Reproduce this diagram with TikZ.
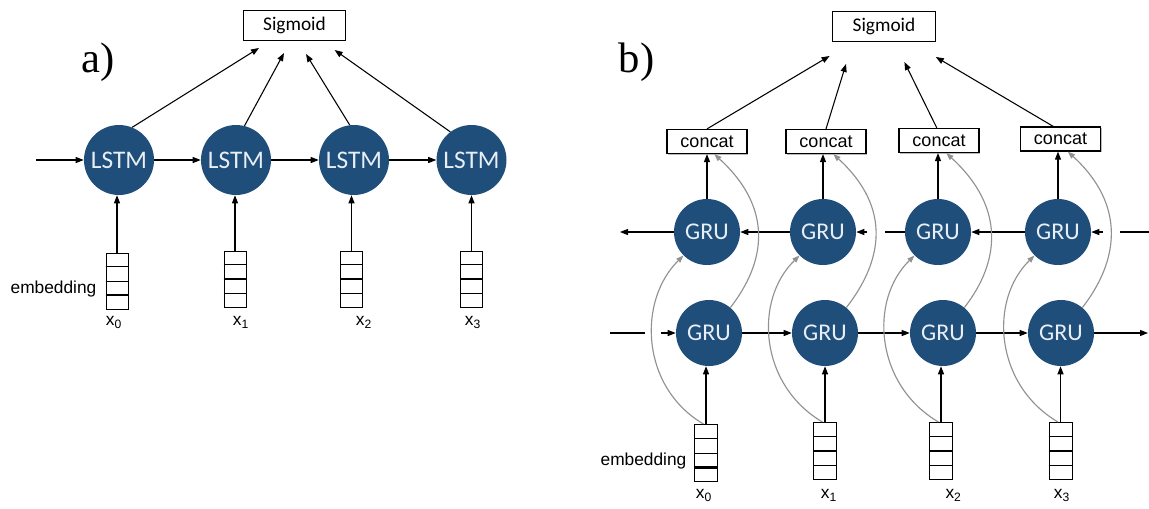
\documentclass[tikz,border=0pt]{standalone}
\usepackage{fontspec}
\setmainfont{Liberation Serif}
\newfontfamily\arialf{Liberation Sans}
\newfontfamily\calibrif{Carlito}
\usetikzlibrary{arrows.meta,calc,shadows}
\definecolor{nodeblue}{RGB}{31,78,122}
\definecolor{nodetext}{RGB}{232,238,245}
\definecolor{curvegray}{RGB}{145,145,145}
\newcommand\embcells[2]{%
  \foreach \i in {1,2,3}{\draw[line width=0.6pt] ($(#1.north west)!\i/4!(#1.south west)$) -- ($(#1.north east)!\i/4!(#1.south east)$);}
  \draw[line width=1.6pt] ($(#1.north west)!#2/4!(#1.south west)$) -- ($(#1.north east)!#2/4!(#1.south east)$);
}
\begin{document}
\begin{tikzpicture}[x=0.75pt,y=-0.75pt,
  ar/.style={-{Triangle[length=6pt,width=4.5pt]}, line width=0.8pt},
  gar/.style={-{Triangle[length=5.5pt,width=4pt]}, line width=0.85pt, curvegray},
  cellnode/.style={circle, fill=nodeblue, inner sep=0pt, text=nodetext},
  lstmnode/.style={cellnode, minimum size=52.5pt, font=\calibrif\fontsize{19}{19}\selectfont},
  grunode/.style={cellnode, minimum size=49.5pt, font=\calibrif\fontsize{18}{18}\selectfont},
  sigbox/.style={draw, line width=0.75pt, minimum width=77pt, minimum height=22pt, inner sep=0pt, font=\calibrif\fontsize{14.5}{14.5}\selectfont},
  catbox/.style={draw, fill=white, line width=0.9pt, minimum width=60pt, minimum height=18pt, inner sep=0pt, font=\arialf\fontsize{13.5}{13.5}\selectfont, drop shadow={shadow xshift=0.9pt, shadow yshift=-0.9pt, fill=black!45, opacity=0.6}},
  embboxa/.style={draw, line width=0.75pt, minimum width=16.5pt, minimum height=42pt, inner sep=0pt},
  embboxb/.style={draw, line width=0.75pt, minimum width=17.25pt, minimum height=42.75pt, inner sep=0pt},
  lbl/.style={font=\arialf\fontsize{13}{13}\selectfont, inner sep=0pt},
  panel/.style={font=\fontsize{32}{32}\selectfont, inner sep=0pt}
]
\useasboundingbox[fill=white] (0,0) rectangle (1149,508);

% ---------------- part a ----------------
\node[sigbox] (sa) at (294.5,25.5) {Sigmoid};
\node[panel] (pa) at (98,62) {a)};
\node[lstmnode] (la1) at (119,160) {LSTM};
\node[lstmnode] (la2) at (236,160) {LSTM};
\node[lstmnode] (la3) at (354,160) {LSTM};
\node[lstmnode] (la4) at (471.5,160) {LSTM};
\node[embboxa] (ea1) at (117,281) {};
\node[embboxa] (ea2) at (235,279) {};
\node[embboxa] (ea3) at (351.5,279) {};
\node[embboxa] (ea4) at (471.5,279) {};
\embcells{ea1}{3}
\embcells{ea2}{2}
\embcells{ea3}{2}
\embcells{ea4}{2}
\node[lbl] (xa0) at (114,322) {x\textsubscript{0}};
\node[lbl] (xa1) at (241,322) {x\textsubscript{1}};
\node[lbl] (xa2) at (364,322) {x\textsubscript{2}};
\node[lbl] (xa3) at (473,322) {x\textsubscript{3}};
\node[lbl] (emba) at (53.5,289) {embedding};

\coordinate (ina) at (36,160);
\coordinate (sa1) at (259,48);
\coordinate (sa2) at (284,53);
\coordinate (sa3) at (306,54);
\coordinate (sa4) at (334.6,50);

\draw[ar] (ina) -- (la1);
\draw[ar] (la1) -- (la2);
\draw[ar] (la2) -- (la3);
\draw[ar] (la3) -- (la4);
\draw[ar] (la1.68) -- (sa1);
\draw[ar] (la2.76) -- (sa2);
\draw[ar] (la3.97) -- (sa3);
\draw[ar] (la4.127) -- (sa4);
\foreach \k in {1,2,3,4}{\draw[ar] (ea\k.north) -- (ea\k.north |- la\k.south);}

% ---------------- part b ----------------
\node[sigbox] (sb) at (884,26.5) {Sigmoid};
\node[panel] (pb) at (636.5,62) {b)};
\node[catbox] (c1) at (707,141.5) {concat};
\node[catbox] (c2) at (826,141.5) {concat};
\node[catbox] (c3) at (939,140.5) {concat};
\node[catbox] (c4) at (1060.5,139) {concat};
\node[grunode] (u1) at (707,232) {GRU};
\node[grunode] (u2) at (823,232) {GRU};
\node[grunode] (u3) at (938,232) {GRU};
\node[grunode] (u4) at (1058,232) {GRU};
\node[grunode] (l1) at (709,333) {GRU};
\node[grunode] (l2) at (825,333) {GRU};
\node[grunode] (l3) at (943,333) {GRU};
\node[grunode] (l4) at (1061,333) {GRU};
\node[embboxb] (eb1) at (706,453) {};
\node[embboxb] (eb2) at (825,451) {};
\node[embboxb] (eb3) at (941,451) {};
\node[embboxb] (eb4) at (1060.5,451) {};
\embcells{eb1}{3}
\embcells{eb2}{2}
\embcells{eb3}{2}
\embcells{eb4}{2}
\node[lbl] (xb0) at (704,495) {x\textsubscript{0}};
\node[lbl] (xb1) at (829,495) {x\textsubscript{1}};
\node[lbl] (xb2) at (953.6,495) {x\textsubscript{2}};
\node[lbl] (xb3) at (1062,495) {x\textsubscript{3}};
\node[lbl] (embb) at (643.5,461) {embedding};

\coordinate (sb1) at (829.6,56);
\coordinate (sb2) at (846,64);
\coordinate (sb3) at (904.4,62);
\coordinate (sb4) at (935.8,57);
\coordinate (ul) at (620,232);
\coordinate (g1) at (885,232);
\coordinate (g2) at (867,232);
\coordinate (gr1) at (1149,232);
\coordinate (gr2) at (1120,232);
\coordinate (gr3) at (1103,232);
\coordinate (gl1) at (610,333);
\coordinate (gl2) at (645,333);
\coordinate (gl3) at (661,333);
\coordinate (lr) at (1148,333);

% concat -> sigmoid
\draw[ar] (c1.north) -- (sb1);
\draw[ar] (c2.north) -- (sb2);
\draw[ar] (c3.100) -- (sb3);
\draw[ar] (c4.120) -- (sb4);
% upper GRU -> concat
\foreach \k in {1,2,3,4}{\draw[ar] (u\k.north) -- (u\k.north |- c\k.south);}
% inputs -> lower GRU
\foreach \k in {1,2,3,4}{\draw[ar] (eb\k.north) -- (eb\k.north |- l\k.south);}
% backward row
\draw[ar] (u1.west) -- (ul);
\draw[ar] (u2.west) -- (u1.east);
\draw[line width=0.8pt] (u3.west) -- (g1);
\draw[ar] (g2) -- (u2.east);
\draw[ar] (u4.west) -- (u3.east);
\draw[line width=0.8pt] (gr1) -- (gr2);
\draw[ar] (gr3) -- (u4.east);
% forward row
\draw[line width=0.8pt] (gl1) -- (gl2);
\draw[ar] (gl3) -- (l1.west);
\draw[ar] (l1) -- (l2);
\draw[ar] (l2) -- (l3);
\draw[ar] (l3) -- (l4);
\draw[ar] (l4.east) -- (lr);
% gray skip curves
\foreach \k in {1,2,3,4}{
  \draw[gar] (eb\k.95) .. controls +(-63,-37) and +(-46,45) .. (u\k.225);
  \draw[gar] (l\k.50) .. controls +(35,-45) and +(60,55) .. (c\k.-60);
}
\end{tikzpicture}
\end{document}
